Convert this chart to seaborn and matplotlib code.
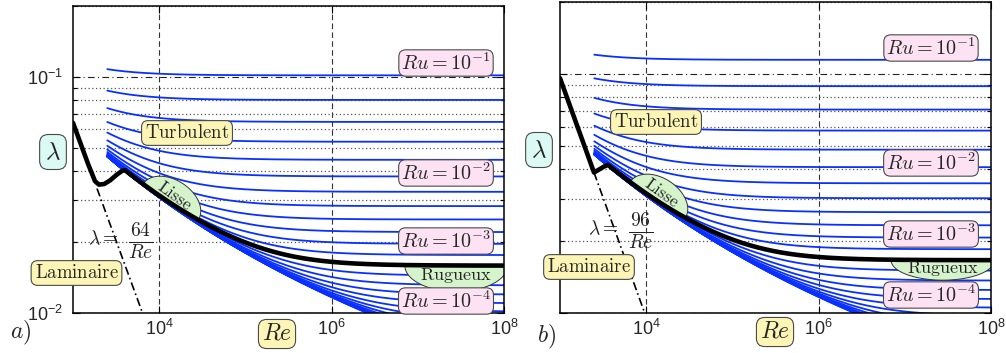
import numpy as np
import pandas as pd
import matplotlib
matplotlib.use("Agg")
import matplotlib.pyplot as plt
import seaborn as sns
from matplotlib.patches import Polygon
from matplotlib.ticker import FixedLocator, LogLocator, NullFormatter, LogFormatterSciNotation, NullLocator

# ---------------- data ----------------
# relative roughness exponents of the blue curves (5 per decade)
ru_exponents = [-1.0, -1.2, -1.4, -1.6, -1.8, -2.0, -2.2, -2.4, -2.6, -2.8,
                -3.0, -3.2, -3.4, -3.6, -3.8, -4.0, -4.2, -4.4, -4.6, -4.8,
                -5.0, -5.2, -5.4, -5.6, -5.8, -6.0]
re_turb_start = 2500.0
re_max = 1.0e8
rough_div = {"a": 3.7, "b": 3.0}          # Colebrook roughness divisor per panel
lam_coef = {"a": 64.0, "b": 96.0}         # laminar coefficient  lambda = C/Re
lam_dash_re = {"a": [1900.0, 6400.0], "b": [2480.0, 9600.0]}
black_ru_exp = -3.4
# transition part of the thick black curve
black_tr_re = {"a": [1000, 1500, 1800, 2000, 2300, 2700, 3200, 3700],
               "b": [1000, 2480, 3250]}
black_tr_lam = {"a": [0.064, 0.0427, 0.0362, 0.0350, 0.0352, 0.0365, 0.0385, 0.0400],
                "b": [0.096, 0.0387, 0.0410]}
black_turb_start = {"a": 4000.0, "b": 3600.0}
ru_label_exps = [-1, -2, -3, -4]
xticks = [1e4, 1e6, 1e8]
yticks = [0.01, 0.1]
xlim = (1e3, 1e8)
ylim = (0.01, 0.2)


def colebrook(re, ru, k):
    lam = np.full_like(re, 0.03, dtype=float)
    for _ in range(80):
        lam = (-2.0 * np.log10(ru / k + 2.51 / (re * np.sqrt(lam)))) ** -2
    return lam


# ---------------- styling ----------------
sns.set_style("ticks")
plt.rcParams["font.family"] = ["Liberation Sans", "DejaVu Sans"]
plt.rcParams["axes.linewidth"] = 1.1

W, H = 1006, 353
fig = plt.figure(figsize=(W / 100, H / 100), dpi=100)


def fpos(x, y):
    return (x / W, 1 - y / H)


ax_a = fig.add_axes([73 / W, 1 - 313 / H, 431 / W, 307 / H])
ax_b = fig.add_axes([560 / W, 1 - 313 / H, 431 / W, 311 / H])

BLUE = "#0a30ff"
PINK = "#fde2f4"
YELLOW = "#fdf5b6"
GREEN = "#d5f4cb"
CYAN = "#dcfaf4"
EDGE = "#4a4a4a"

re_grid = np.geomspace(re_turb_start, re_max, 400)


def box_text(ax, xy_px, s, fc, size, pad=0.22):
    ax.text(*fpos(*xy_px), s, transform=fig.transFigure, ha="center", va="center",
            fontsize=size, math_fontfamily="cm", zorder=8, clip_on=False,
            bbox=dict(boxstyle=f"round,pad={pad},rounding_size=0.35", fc=fc, ec=EDGE, lw=0.8))


def half_ellipse(ax, p1, p2, b_px, side, fc):
    d1 = ax.transData.transform(p1)
    d2 = ax.transData.transform(p2)
    c = (d1 + d2) / 2
    vec = d2 - d1
    a = np.hypot(*vec) / 2
    u = vec / (2 * a)
    v = np.array([-u[1], u[0]]) * side
    t = np.linspace(0, np.pi, 80)
    pts = c + np.outer(a * np.cos(t), u) + np.outer(b_px * np.sin(t), v)
    pts_f = fig.transFigure.inverted().transform(pts)
    poly = Polygon(pts_f, closed=True, transform=fig.transFigure, fc=fc, ec="#333333",
                   lw=0.7, zorder=3)
    ax.add_patch(poly)
    return c, u, v


panels = {"a": ax_a, "b": ax_b}
ru_label_pos = {"a": (446, [63, 173, 241, 301]), "b": (931, [48, 163, 234, 295])}

for key, ax in panels.items():
    ax.set_xscale("log")
    ax.set_yscale("log")
    ax.set_xlim(*xlim)
    ax.set_ylim(*ylim)

    # blue Colebrook curves
    frames = []
    for e in ru_exponents:
        frames.append(pd.DataFrame({"Re": re_grid,
                                    "lam": colebrook(re_grid, 10.0 ** e, rough_div[key]),
                                    "curve": f"{e:.1f}"}))
    df = pd.concat(frames, ignore_index=True)
    sns.lineplot(data=df, x="Re", y="lam", hue="curve", palette=[BLUE] * len(ru_exponents),
                 legend=False, ax=ax, linewidth=1.3, estimator=None, sort=False, zorder=2)

    # laminar dash-dot continuation
    re_l = np.array(lam_dash_re[key])
    sns.lineplot(x=re_l, y=lam_coef[key] / re_l, ax=ax, color="black", linewidth=1.2,
                 linestyle=(0, (5, 2, 1, 2)), estimator=None, sort=False, zorder=4)

    # thick black curve
    re_bt = np.geomspace(black_turb_start[key], re_max, 300)
    lam_bt = colebrook(re_bt, 10.0 ** black_ru_exp, rough_div[key])
    re_black = np.concatenate([black_tr_re[key], re_bt])
    lam_black = np.concatenate([black_tr_lam[key], lam_bt])
    sns.lineplot(x=re_black, y=lam_black, ax=ax, color="black", linewidth=3.3,
                 estimator=None, sort=False, zorder=5)

    ax.set_xlim(*xlim)
    ax.set_ylim(*ylim)
    ax.set_xlabel("")
    ax.set_ylabel("")

    # ticks & grid
    ax.xaxis.set_major_locator(FixedLocator(xticks))
    ax.xaxis.set_minor_locator(NullLocator())
    ax.xaxis.set_major_formatter(LogFormatterSciNotation())
    ax.yaxis.set_major_locator(FixedLocator(yticks))
    ax.yaxis.set_minor_locator(LogLocator(base=10, subs=np.arange(2, 10)))
    ax.yaxis.set_minor_formatter(NullFormatter())
    if key == "a":
        ax.yaxis.set_major_formatter(LogFormatterSciNotation())
    else:
        ax.yaxis.set_major_formatter(NullFormatter())
    ax.tick_params(which="both", direction="in", top=True, right=True, labelsize=13,
                   width=0.8, color="black")
    ax.tick_params(which="major", length=5)
    ax.tick_params(which="minor", length=3)
    ax.tick_params(axis="x", pad=4)
    ax.tick_params(axis="y", pad=7)
    ax.grid(axis="x", which="major", linestyle=(0, (5, 3)), color="#333333", linewidth=0.8)
    ax.grid(axis="y", which="major", linestyle=(0, (6, 3, 1, 3)), color="#222222", linewidth=0.8)
    ax.grid(axis="y", which="minor", linestyle=(0, (1, 2.0)), color="#555555", linewidth=0.9)
    ax.set_axisbelow(True)
    for sp in ax.spines.values():
        sp.set_visible(True)
        sp.set_linewidth(1.1)
        sp.set_color("black")
        sp.set_zorder(6)

    # green half ellipses
    lam_of = lambda r: colebrook(np.array([r]), 10.0 ** black_ru_exp, rough_div[key])[0]
    c, u, v = half_ellipse(ax, (6500, lam_of(6500)), (28400, lam_of(28400)), 22, 1, GREEN)
    tpos = fig.transFigure.inverted().transform(c + 8 * v)
    ax.text(*tpos, r"$\mathrm{Lisse}$", transform=fig.transFigure, ha="center", va="center",
            rotation=-36, rotation_mode="anchor", fontsize=12.5, math_fontfamily="cm", zorder=7)
    lam_end = lam_of(re_max)
    depth = 26 if key == "a" else 20
    re1 = 10 ** 6.85 if key == "a" else 10 ** 6.84
    c2, u2, v2 = half_ellipse(ax, (re1, lam_end), (1.1e8, lam_end), depth, -1, GREEN)
    tpos2 = fig.transFigure.inverted().transform(c2 + (10 if key == "a" else 8) * v2)
    ax.text(*tpos2, r"$\mathrm{Rugueux}$", transform=fig.transFigure, ha="center", va="center",
            fontsize=13, math_fontfamily="cm", zorder=7)

    # Ru labels
    xl, ys = ru_label_pos[key]
    for e, yy in zip(ru_label_exps, ys):
        box_text(ax, (xl, yy), rf"$Ru = 10^{{{e}}}$", PINK, 14.5, pad=0.12)

# other annotations
box_text(ax_a, (187, 133), r"$\mathrm{Turbulent}$", YELLOW, 13.5, pad=0.18)
box_text(ax_b, (656, 122), r"$\mathrm{Turbulent}$", YELLOW, 13.5, pad=0.18)
box_text(ax_a, (76.5, 273), r"$\mathrm{Laminaire}$", YELLOW, 13.5, pad=0.18)
box_text(ax_b, (589, 267), r"$\mathrm{Laminaire}$", YELLOW, 13.5, pad=0.18)
box_text(ax_a, (53, 152), r"$\lambda$", CYAN, 18)
box_text(ax_b, (539, 150), r"$\lambda$", CYAN, 18)
box_text(ax_a, (277, 334), r"$Re$", YELLOW, 17, pad=0.15)
box_text(ax_b, (775, 332), r"$Re$", YELLOW, 17, pad=0.15)

# lambda = C/Re annotations
for ax, (xl, xf, yy), num in [(ax_a, (103, 141, 239), "64"), (ax_b, (603, 641, 229), "96")]:
    ax.text(*fpos(xl, yy), r"$\lambda =$", transform=fig.transFigure, ha="center",
            va="center", fontsize=14, math_fontfamily="cm", zorder=7, color="#222222")
    ax.text(*fpos(xf, yy + 1), rf"$\frac{{{num}}}{{Re}}$", transform=fig.transFigure,
            ha="center", va="center", fontsize=20, math_fontfamily="cm", zorder=7,
            color="#222222")

fig.text(*fpos(21, 333), r"$a)$", ha="center", va="center", fontsize=17, math_fontfamily="cm")
fig.text(*fpos(547, 337), r"$b)$", ha="center", va="center", fontsize=17, math_fontfamily="cm")

fig.savefig("out.png", dpi=100)
